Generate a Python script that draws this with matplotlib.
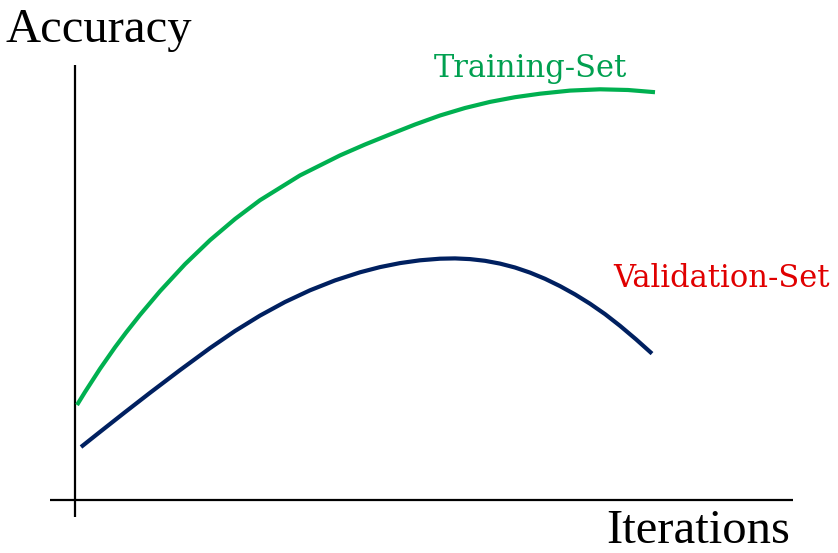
import numpy as np
import matplotlib.pyplot as plt

# Curvas (x = iteraciones, y = precisión, unidades arbitrarias)
iter_train = [2, 10, 25, 40, 51, 65, 85, 110, 135, 160, 185, 225, 265, 290,
              315, 340, 365, 390, 415, 440, 465, 495, 525, 553, 580]
acc_train = [95, 108, 131.2, 152.7, 167.4, 185.1, 208.8, 235.8, 259.8, 281,
             299.8, 324.6, 344.6, 355.5, 365.6, 375.5, 384.5, 392, 398.1,
             402.8, 406.3, 409.4, 410.7, 410, 407.8]

iter_val = [6, 25, 50, 75, 105, 135, 160, 185, 210, 235, 260, 285, 305, 325,
            345, 365, 380, 395, 410, 425, 440, 455, 470, 485, 500, 515, 530,
            545, 561, 577]
acc_val = [53, 68.1, 87.8, 107.2, 129.9, 151.9, 169, 184.4, 198, 209.7, 219.6,
           227.7, 232.9, 236.9, 239.7, 241.3, 241.6, 240.9, 239.2, 236.4, 232.5,
           227.4, 221.2, 213.9, 205.6, 196.3, 185.9, 174.2, 160.7, 146.4]

fig = plt.figure(figsize=(8.38, 5.53), dpi=100)
ax = fig.add_axes([0, 0, 1, 1])
ax.set_xlim(-75, 763)
ax.set_ylim(-53, 500)
ax.axis('off')

# Ejes dibujados a mano
ax.vlines(0, -17, 435, color='black', linewidth=1.6)
ax.hlines(0, -25, 718, color='black', linewidth=1.6)

ax.plot(iter_train, acc_train, color='#00B050', linewidth=3.0,
        solid_capstyle='butt', solid_joinstyle='round')
ax.plot(iter_val, acc_val, color='#002060', linewidth=3.0,
        solid_capstyle='butt', solid_joinstyle='round')

ax.text(-70, 458, 'Accuracy', fontsize=35, family='Liberation Serif',
        va='baseline', ha='left')
ax.text(715, -43, 'Iterations', fontsize=35, family='Liberation Serif',
        va='baseline', ha='right')
ax.text(455, 423, 'Training-Set', fontsize=22, family='DejaVu Serif',
        color='#00A050', va='baseline', ha='center')
ax.text(646, 213, 'Validation-Set', fontsize=22, family='DejaVu Serif',
        color='#E00000', va='baseline', ha='center')

plt.savefig('out.png', dpi=100)
